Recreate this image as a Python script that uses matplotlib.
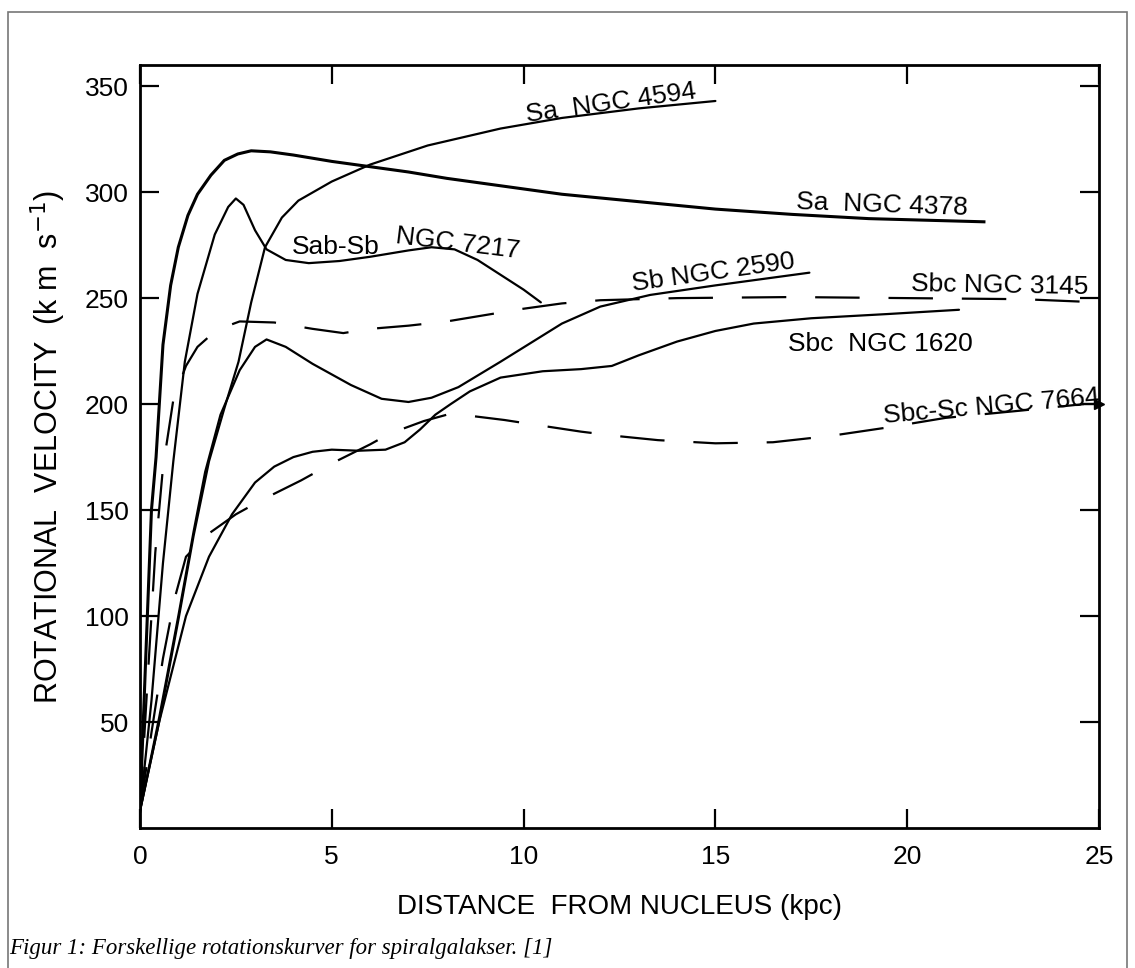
import matplotlib
matplotlib.use("Agg")
import matplotlib.pyplot as plt
from matplotlib.patches import Rectangle

# ---- data ----
x_4378 = [0, 0.15, 0.3, 0.42, 0.6, 0.8, 1.0, 1.25, 1.5, 1.85, 2.2, 2.55, 2.9, 3.4, 4.0, 5.0, 6.0, 7.0, 8.0, 9.4, 11, 13, 15, 17, 19, 22]
v_4378 = [8, 80, 150, 175, 228, 256, 274, 289, 299, 308, 315, 318, 319.5, 319, 317.5, 314.5, 312, 309.5, 306.5, 303, 299, 295.5, 292, 289.5, 287.5, 286]

x_4594 = [0, 0.5, 1.0, 1.4, 1.8, 2.2, 2.57, 2.9, 3.26, 3.7, 4.13, 5.0, 6.0, 7.5, 9.4, 11, 13, 15]
v_4594 = [8, 50, 98, 138, 173, 198, 220, 248, 274, 288, 296, 305, 313, 322, 330, 335, 339.5, 343]

x_7217 = [0, 0.3, 0.6, 0.87, 1.17, 1.5, 1.95, 2.3, 2.5, 2.7, 3.0, 3.3, 3.8, 4.4, 5.2, 6.0, 7.0, 7.6, 8.2, 8.8, 9.4, 10.0, 10.45]
v_7217 = [8, 60, 125, 173, 220, 252, 280, 293, 297, 294, 282, 273, 268, 266.5, 267.5, 269.5, 272.5, 274, 273, 268, 261, 254, 248]

x_2590 = [0, 0.5, 1.0, 1.4, 1.7, 2.1, 2.6, 3.0, 3.3, 3.8, 4.5, 5.5, 6.3, 7.0, 7.6, 8.3, 9.4, 10.2, 11, 12, 13.3, 15, 17.45]
v_2590 = [8, 52, 100, 140, 168, 195, 216, 227, 230.5, 227, 219, 209, 202.5, 201, 203, 208, 220, 229, 238, 246, 251.5, 256, 262]

x_1620 = [0, 0.5, 1.2, 1.8, 2.4, 3.0, 3.5, 4.0, 4.5, 5.0, 5.7, 6.4, 6.9, 7.3, 7.7, 8.1, 8.6, 9.4, 10.5, 11.5, 12.3, 13, 14, 15, 16, 17.5, 19.5, 21.35]
v_1620 = [8, 50, 100, 128, 148, 163, 170.5, 175, 177.5, 178.5, 178, 178.5, 182, 188, 195, 200, 206, 212.5, 215.5, 216.5, 218, 223, 229.5, 234.5, 238, 240.5, 242.5, 244.5]

x_3145 = [0, 0.2, 0.4, 0.6, 0.87, 1.2, 1.5, 2.0, 2.6, 3.5, 4.5, 5.3, 6.0, 7.0, 8.0, 9.0, 10.0, 11, 12, 14, 17, 20, 23, 25]
v_3145 = [8, 70, 130, 170, 202, 218, 227, 235, 239, 238.5, 235.5, 233.5, 235.5, 237, 239, 242, 245, 247.5, 249, 250, 250.5, 250, 249.5, 248]

x_7664 = [0, 0.3, 0.6, 0.9, 1.2, 1.8, 2.5, 3.2, 4.2, 5.0, 6.0, 6.5, 7.4, 8.0, 8.6, 9.5, 10.4, 11.5, 12.4, 13.5, 15, 16.5, 18, 19.5, 21, 23, 24.6]
v_7664 = [8, 45, 80, 108, 128, 139, 148, 155, 164, 172, 181, 186, 192, 195, 194.5, 192.5, 190, 187, 185, 183, 181.5, 182, 185, 189, 193.5, 197, 200]

x_ticks = [0, 5, 10, 15, 20, 25]
x_ticklabels = ["0", "5", "10", "15", "20", "25"]
y_ticks = [50, 100, 150, 200, 250, 300, 350]
y_ticklabels = ["50", "100", "150", "200", "250", "300", "350"]

labels = ["Sa  NGC 4594", "Sa  NGC 4378", "Sab-Sb", "NGC 7217", "Sb NGC 2590",
          "Sbc NGC 3145", "Sbc  NGC 1620", "Sbc-Sc NGC 7664"]
label_x = [10.1, 17.1, 3.95, 6.65, 12.85, 20.1, 16.9, 19.4]
label_v = [333, 292, 271, 276, 253.5, 253.5, 225, 191]
label_rot = [8, -2, 0, -7, 8, -1, 0, 5]

# ---- figure ----
plt.rcParams['font.family'] = ['Liberation Sans', 'DejaVu Sans']
fig = plt.figure(figsize=(11.35, 9.68), dpi=100)
ax = fig.add_axes([0.1233, 0.1446, 0.845, 0.7883])

solid = dict(color='black', lw=1.6, solid_capstyle='round')
ax.plot(x_4378, v_4378, color='black', lw=2.2)
ax.plot(x_4594, v_4594, **solid)
ax.plot(x_7217, v_7217, **solid)
ax.plot(x_2590, v_2590, **solid)
ax.plot(x_1620, v_1620, **solid)
ax.plot(x_3145, v_3145, color='black', lw=1.6, linestyle=(0, (20, 13)))
ax.plot(x_7664, v_7664, color='black', lw=1.6, linestyle=(0, (20, 13)))
ax.plot([x_7664[-1], 25], [v_7664[-1], v_7664[-1]], color='black', lw=1.6)
ax.plot([25], [v_7664[-1]], marker='>', color='black', markersize=7, clip_on=False)

for t, x, v, r in zip(labels, label_x, label_v, label_rot):
    ax.text(x, v, t, fontsize=19, rotation=r, rotation_mode='anchor',
            ha='left', va='baseline')

ax.set_xlim(0, 25)
ax.set_ylim(0, 360)
ax.set_xticks(x_ticks)
ax.set_xticklabels(x_ticklabels)
ax.set_yticks(y_ticks)
ax.set_yticklabels(y_ticklabels)
ax.tick_params(direction='in', length=14, width=1.6, labelsize=19,
               top=True, right=True, pad=8)
ax.tick_params(axis='x', pad=12)
for s in ax.spines.values():
    s.set_linewidth(2.0)

ax.set_xlabel("DISTANCE  FROM NUCLEUS (kpc)", fontsize=20, labelpad=18)
ax.set_ylabel("ROTATIONAL  VELOCITY  (k m  s$^{-1}$)", fontsize=22, labelpad=12)

fig.text(0.008, 0.014, "Figur 1: Forskellige rotationskurver for spiralgalakser. [1]",
         fontsize=16.5, style='italic', family='Liberation Serif', ha='left', va='baseline')

fig.patches.append(Rectangle((0.007, -0.01), 0.986, 0.998, transform=fig.transFigure,
                             fill=False, edgecolor='#777777', lw=1.2))

fig.savefig("out.png", dpi=100)
